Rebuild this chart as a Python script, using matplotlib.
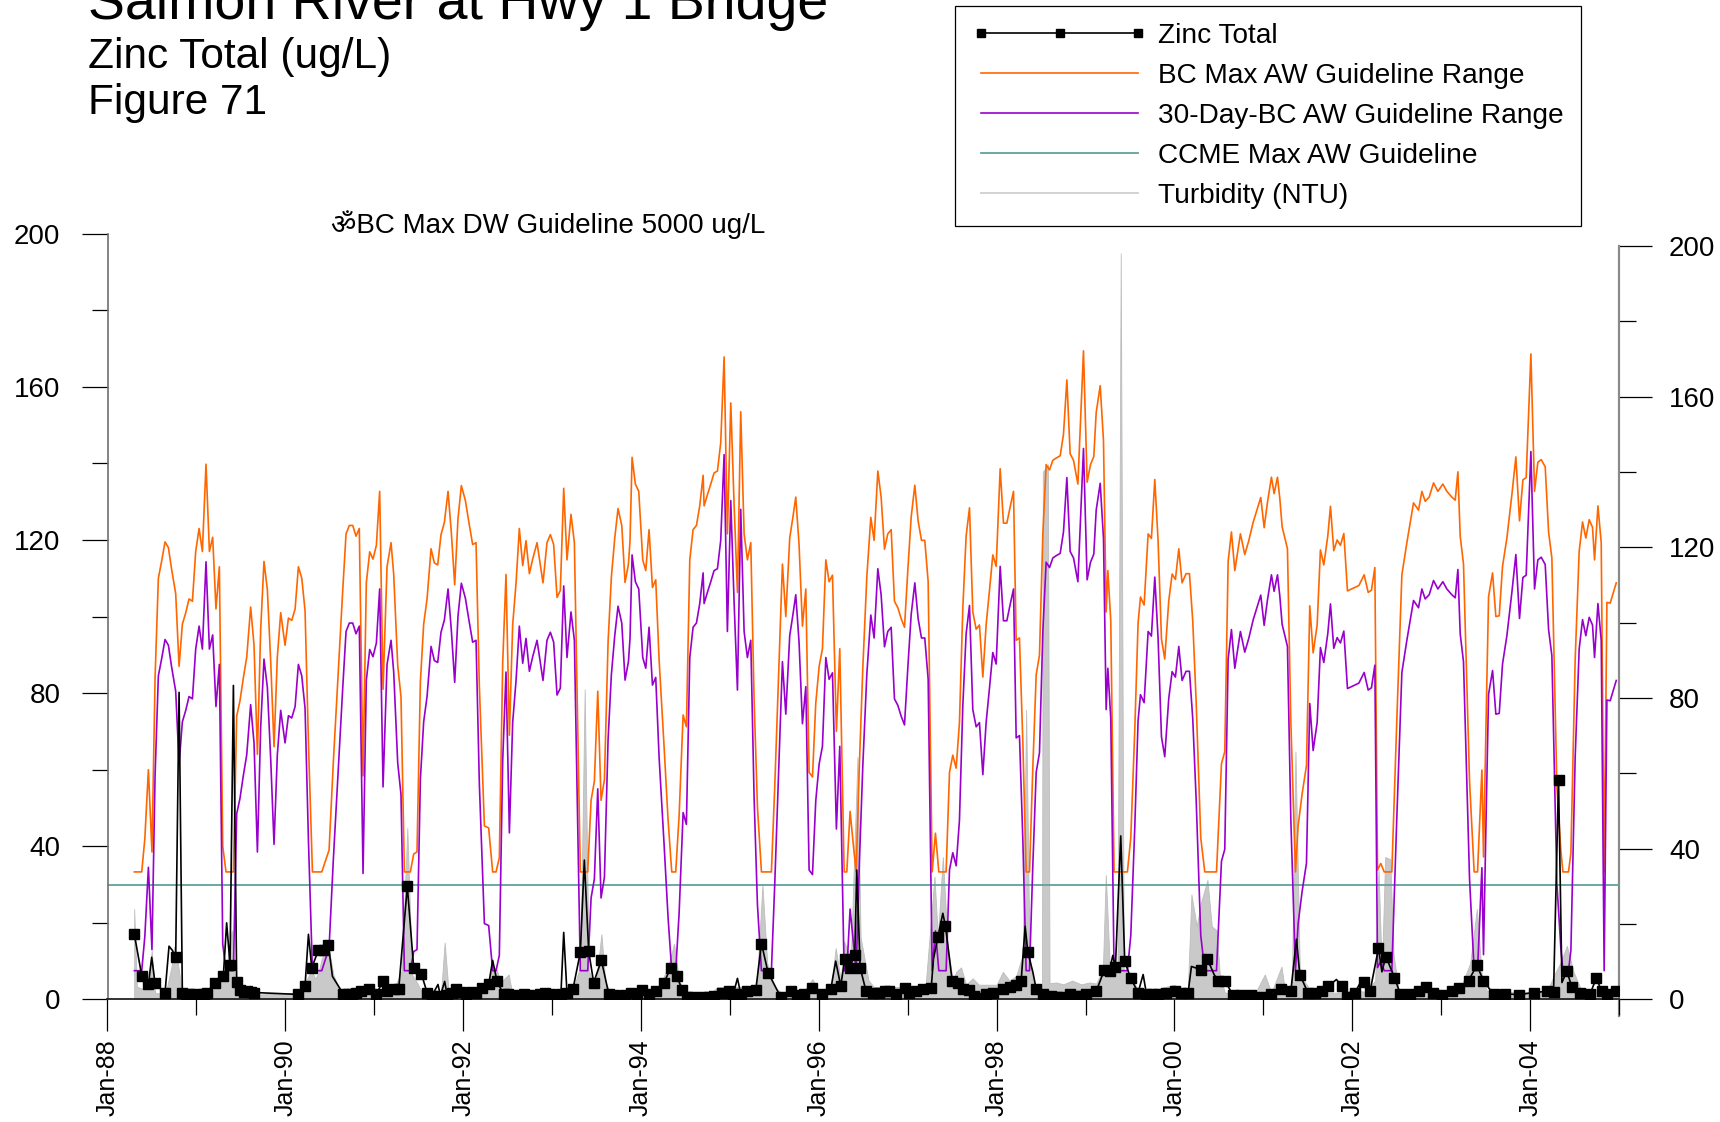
import matplotlib
matplotlib.use("Agg")
import matplotlib.pyplot as plt
from matplotlib.lines import Line2D
from matplotlib.ticker import FixedLocator

plt.rcParams['font.family'] = ['Liberation Sans', 'DejaVu Sans', 'Noto Sans']

# ---------------- data (decimal years) ----------------
guide_dates = [1988.302,1988.385,1988.42,1988.46,1988.50,1988.535,1988.572,1988.61,1988.647,1988.685,1988.72,1988.767,1988.805,1988.842,1988.88,1988.917,1988.955,1988.992,1989.03,1989.067,1989.108,1989.146,1989.183,1989.22,1989.258,1989.296,1989.333,1989.416,1989.453,1989.49,1989.528,1989.566,1989.61,1989.648,1989.686,1989.723,1989.76,1989.798,1989.836,1989.873,1989.91,1989.948,1989.997,1990.035,1990.072,1990.11,1990.147,1990.185,1990.222,1990.26,1990.305,1990.41,1990.492,1990.54,1990.597,1990.646,1990.683,1990.72,1990.758,1990.795,1990.832,1990.874,1990.911,1990.949,1990.986,1991.024,1991.061,1991.099,1991.144,1991.189,1991.219,1991.264,1991.301,1991.339,1991.406,1991.444,1991.481,1991.519,1991.556,1991.594,1991.639,1991.676,1991.714,1991.751,1991.789,1991.83,1991.867,1991.905,1991.942,1991.98,1992.025,1992.062,1992.107,1992.145,1992.182,1992.239,1992.287,1992.332,1992.37,1992.407,1992.445,1992.482,1992.52,1992.557,1992.595,1992.632,1992.67,1992.707,1992.745,1992.782,1992.831,1992.868,1992.898,1992.943,1992.981,1993.018,1993.056,1993.093,1993.131,1993.168,1993.213,1993.251,1993.318,1993.401,1993.439,1993.476,1993.514,1993.551,1993.589,1993.63,1993.667,1993.705,1993.742,1993.784,1993.821,1993.859,1993.877,1993.9,1993.937,1993.975,1994.02,1994.054,1994.091,1994.129,1994.166,1994.204,1994.26,1994.305,1994.346,1994.391,1994.429,1994.474,1994.511,1994.549,1994.586,1994.624,1994.661,1994.699,1994.71,1994.747,1994.785,1994.822,1994.86,1994.897,1994.935,1994.972,1995.01,1995.047,1995.085,1995.122,1995.16,1995.197,1995.235,1995.272,1995.31,1995.355,1995.467,1995.505,1995.554,1995.591,1995.629,1995.673,1995.711,1995.741,1995.778,1995.816,1995.854,1995.891,1995.929,1995.966,1996.004,1996.041,1996.079,1996.116,1996.154,1996.198,1996.236,1996.285,1996.315,1996.352,1996.39,1996.42,1996.457,1996.495,1996.54,1996.585,1996.622,1996.664,1996.701,1996.739,1996.776,1996.814,1996.851,1996.889,1996.926,1996.964,1997.001,1997.039,1997.08,1997.117,1997.155,1997.192,1997.23,1997.275,1997.312,1997.35,1997.432,1997.47,1997.507,1997.545,1997.582,1997.62,1997.657,1997.695,1997.732,1997.77,1997.807,1997.845,1997.882,1997.92,1997.957,1997.995,1998.04,1998.077,1998.115,1998.152,1998.19,1998.22,1998.257,1998.295,1998.332,1998.37,1998.407,1998.445,1998.482,1998.52,1998.557,1998.595,1998.632,1998.67,1998.715,1998.752,1998.79,1998.827,1998.865,1998.914,1998.977,1999.018,1999.056,1999.093,1999.12,1999.165,1999.202,1999.232,1999.251,1999.284,1999.321,1999.471,1999.509,1999.554,1999.591,1999.618,1999.659,1999.704,1999.741,1999.779,1999.816,1999.854,1999.891,1999.936,1999.974,2000.011,2000.049,2000.086,2000.131,2000.169,2000.206,2000.244,2000.296,2000.341,2000.473,2000.529,2000.566,2000.604,2000.641,2000.679,2000.742,2000.791,2000.836,2000.885,2000.971,2001.009,2001.046,2001.091,2001.121,2001.159,2001.185,2001.211,2001.271,2001.309,2001.361,2001.391,2001.436,2001.485,2001.522,2001.56,2001.605,2001.642,2001.68,2001.725,2001.755,2001.792,2001.83,2001.867,2001.905,2001.946,2002.074,2002.134,2002.179,2002.216,2002.254,2002.284,2002.321,2002.359,2002.445,2002.501,2002.558,2002.614,2002.689,2002.745,2002.783,2002.82,2002.865,2002.914,2002.963,2003.019,2003.064,2003.12,2003.158,2003.188,2003.214,2003.251,2003.319,2003.371,2003.409,2003.458,2003.476,2003.506,2003.533,2003.578,2003.615,2003.653,2003.69,2003.739,2003.795,2003.84,2003.881,2003.919,2003.956,2004.009,2004.05,2004.087,2004.125,2004.17,2004.208,2004.245,2004.301,2004.346,2004.369,2004.432,2004.459,2004.507,2004.552,2004.59,2004.627,2004.665,2004.702,2004.725,2004.763,2004.8,2004.833,2004.864,2004.901,2004.969]

bc_max_aw = [33.3,33.3,42,60,38.5,84,110,114.6,119.5,118,112.5,106,87,98,101,104.6,104,117,123,117,139.8,117,120.7,102,113,40,33.3,33.3,74,78,84,89.4,102.5,92.5,64,96.7,114.4,107,88,66,89.4,101,92.5,99.6,99,102,113,110,101.5,67,33.3,33.3,39,62,86,107,121.6,123.8,123.8,121,123,58.4,108.8,116.9,115,118.6,132.7,81,113,119.3,111,87.3,79,33.3,33.3,38,38.5,83,98,104.6,117.7,114,113.5,121.4,124.6,132.7,122,108.3,125.6,134.2,130.3,125,118.8,119.3,82,45.3,44.8,33.3,33.3,37,88,111,69,97.8,108.8,123,113.3,119.8,111.2,115,119.3,113.5,108.8,119.3,121.4,118.8,105,106.8,133.5,114.8,126.7,119.3,33.3,33.3,52,57,80.5,52,57.4,93.3,110.3,120.5,128.2,123.8,108.9,113.7,119.9,141.6,134.6,132.7,114.8,112,122.7,107.6,109.6,88.7,66,46.8,33.3,33.3,48,74.3,71.2,114.8,122.7,123.8,128.9,136.9,128.9,131.8,134.6,137.5,138,145.4,167.8,121.6,155.8,129.5,106.3,153.5,121.6,114.8,119.3,78.5,50.2,33.3,33.3,55.9,88.7,113.7,100,120.5,126.3,131.2,118.8,97.5,107.2,59.3,58.1,77.4,87,91.6,114.8,109.1,110.8,70,91.6,33.3,33.3,49.1,40,33.3,61.6,86.5,110.3,125.9,119.9,138,131.2,117.6,121.6,122.7,104,102.3,99.5,97.2,112,126,134.3,125,119.9,119.9,109.1,33.3,43.4,33.3,33.3,59.3,63.8,60.4,72.3,102.3,121,128.4,101.2,96.7,97.8,84.2,97.8,106.9,116.1,113.1,138.6,124.4,124.4,128.6,132.7,93.8,94.4,67.2,33.3,33.3,60.4,84.8,89.9,121.6,139.7,138.3,140.8,141.4,142,147.6,161.8,142.5,140.8,134.6,169.4,135.1,139.7,141.8,153.3,160.3,145.9,101.2,112,98.8,33.3,33.3,42.2,70.5,98.3,105.1,103,121.6,120.4,135.8,119.8,94.1,88.9,104.1,111.1,109.7,117.7,108.8,111.2,111.2,98.8,77.9,42.2,33.3,33.3,61.6,64.7,114.4,122.1,112,121.6,116.2,119.8,124.6,131.1,123.2,129.8,136.4,132.1,136.4,130.9,123.5,117.7,72.6,33.3,45.3,53.7,61.1,102.8,90.5,97.8,117.4,113.5,121.1,128.8,117.2,120,118.6,121.7,106.7,108.1,110.9,106.3,106.9,112.8,33.8,35.5,33.3,33.3,72.9,110.9,119.3,129.7,127.8,132.7,130.1,131.2,134.9,132.7,134.6,132.7,131.2,130.4,137.8,121,113.7,57,33.3,33.3,59.9,37.2,74,105.2,111.4,100,100.2,113.1,120.5,131.8,141.7,125,135.7,136.3,168.6,132.7,140.3,141,139.1,122.1,115.3,55.9,38.9,33.3,33.3,38.3,88.7,117,124.7,120.5,125.3,123.3,114.8,128.9,119.3,33.3,103.7,103.5,108.8]

day30_aw = [7.5,7.5,16.5,34.5,13,58.5,84.5,89.1,94,92.5,87,80.5,61.5,72.5,75.5,79.1,78.5,91.5,97.5,91.5,114.3,91.5,95.2,76.5,87.5,14.5,7.5,7.5,48.5,52.5,58.5,63.9,77,67,38.5,71.2,88.9,81.5,62.5,40.5,63.9,75.5,67,74.1,73.5,76.5,87.5,84.5,76,41.5,7.5,7.5,13.5,36.5,60.5,81.5,96.1,98.3,98.3,95.5,97.5,32.9,83.3,91.4,89.5,93.1,107.2,55.5,87.5,93.8,85.5,61.8,53.5,7.5,7.5,12.5,13,57.5,72.5,79.1,92.2,88.5,88,95.9,99.1,107.2,96.5,82.8,100.1,108.7,104.8,99.5,93.3,93.8,56.5,19.8,19.3,7.5,7.5,11.5,62.5,85.5,43.5,72.3,83.3,97.5,87.8,94.3,85.7,89.5,93.8,88,83.3,93.8,95.9,93.3,79.5,81.3,108,89.3,101.2,93.8,7.5,7.5,26.5,31.5,55,26.5,31.9,67.8,84.8,95,102.7,98.3,83.4,88.2,94.4,116.1,109.1,107.2,89.3,86.5,97.2,82.1,84.1,63.2,40.5,21.3,7.5,7.5,22.5,48.8,45.7,89.3,97.2,98.3,103.4,111.4,103.4,106.3,109.1,112,112.5,119.9,142.3,96.1,130.3,104,80.8,128,96.1,89.3,93.8,53,24.7,7.5,7.5,30.4,63.2,88.2,74.5,95,100.8,105.7,93.3,72,81.7,33.8,32.6,51.9,61.5,66.1,89.3,83.6,85.3,44.5,66.1,7.5,7.5,23.6,14.5,7.5,36.1,61,84.8,100.4,94.4,112.5,105.7,92.1,96.1,97.2,78.5,76.8,74,71.7,86.5,100.5,108.8,99.5,94.4,94.4,83.6,7.5,17.9,7.5,7.5,33.8,38.3,34.9,46.8,76.8,95.5,102.9,75.7,71.2,72.3,58.7,72.3,81.4,90.6,87.6,113.1,98.9,98.9,103.1,107.2,68.3,68.9,41.7,7.5,7.5,34.9,59.3,64.4,96.1,114.2,112.8,115.3,115.9,116.5,122.1,136.3,117,115.3,109.1,143.9,109.6,114.2,116.3,127.8,134.8,120.4,75.7,86.5,73.3,7.5,7.5,16.7,45,72.8,79.6,77.5,96.1,94.9,110.3,94.3,68.6,63.4,78.6,85.6,84.2,92.2,83.3,85.7,85.7,73.3,52.4,16.7,7.5,7.5,36.1,39.2,88.9,96.6,86.5,96.1,90.7,94.3,99.1,105.6,97.7,104.3,110.9,106.6,110.9,105.4,98,92.2,47.1,7.5,19.8,28.2,35.6,77.3,65,72.3,91.9,88,95.6,103.3,91.7,94.5,93.1,96.2,81.2,82.6,85.4,80.8,81.4,87.3,8.3,10,7.5,7.5,47.4,85.4,93.8,104.2,102.3,107.2,104.6,105.7,109.4,107.2,109.1,107.2,105.7,104.9,112.3,95.5,88.2,31.5,7.5,7.5,34.4,11.7,48.5,79.7,85.9,74.5,74.7,87.6,95,106.3,116.2,99.5,110.2,110.8,143.1,107.2,114.8,115.5,113.6,96.6,89.8,30.4,13.4,7.5,7.5,12.8,63.2,91.5,99.2,95,99.8,97.8,89.3,103.4,93.8,7.5,78.2,78,83.3]

ccme_max_aw = 30

zinc_dates = [1988.302,1988.385,1988.46,1988.497,1988.535,1988.647,1988.692,1988.73,1988.767,1988.805,
              1988.842,1988.88,1988.92,1988.96,1989.0,1989.04,1989.08,1989.12,1989.21,1989.303,
              1989.34,1989.378,1989.416,1989.453,1989.49,1989.53,1989.57,1989.61,1989.65,1990.147,
              1990.222,1990.26,1990.297,1990.372,1990.43,1990.485,1990.53,1990.65,1990.70,1990.75,
              1990.80,1990.85,1990.94,1991.02,1991.099,1991.144,1991.219,1991.275,1991.372,1991.444,
              1991.53,1991.594,1991.65,1991.717,1991.744,1991.792,1991.82,1991.875,1991.92,1991.97,
              1992.03,1992.09,1992.15,1992.212,1992.287,1992.332,1992.381,1992.456,1992.51,1992.56,
              1992.62,1992.68,1992.74,1992.80,1992.86,1992.92,1992.98,1993.04,1993.10,1993.131,
              1993.168,1993.236,1993.318,1993.363,1993.412,1993.468,1993.555,1993.637,1993.70,1993.76,
              1993.82,1993.885,1993.95,1994.016,1994.091,1994.166,1994.26,1994.335,1994.402,1994.466,
              1994.52,1994.58,1994.64,1994.70,1994.76,1994.82,1994.916,1994.991,1995.04,1995.085,
              1995.122,1995.197,1995.291,1995.355,1995.43,1995.572,1995.685,1995.76,1995.835,1995.929,
              1996.041,1996.135,1996.19,1996.247,1996.292,1996.348,1996.405,1996.427,1996.465,1996.532,
              1996.607,1996.682,1996.74,1996.795,1996.87,1996.964,1997.02,1997.095,1997.17,1997.264,
              1997.29,1997.339,1997.395,1997.425,1997.5,1997.564,1997.62,1997.695,1997.75,1997.807,
              1997.882,1997.957,1998.07,1998.145,1998.22,1998.276,1998.321,1998.351,1998.407,1998.445,
              1998.52,1998.613,1998.68,1998.726,1998.82,1998.895,1998.95,1999.007,1999.12,1999.213,
              1999.27,1999.307,1999.336,1999.396,1999.441,1999.509,1999.591,1999.648,1999.685,1999.75,
              1999.82,1999.90,2000.004,2000.079,2000.154,2000.191,2000.296,2000.371,2000.446,2000.491,
              2000.566,2000.66,2000.754,2000.866,2000.979,2001.091,2001.204,2001.309,2001.372,2001.41,
              2001.504,2001.579,2001.654,2001.729,2001.822,2001.879,2001.946,2002.029,2002.104,2002.134,
              2002.2,2002.295,2002.333,2002.378,2002.475,2002.539,2002.651,2002.745,2002.831,2002.906,
              2003.008,2003.12,2003.206,2003.308,2003.401,2003.476,2003.589,2003.72,2003.87,2004.039,
              2004.189,2004.264,2004.32,2004.358,2004.414,2004.47,2004.564,2004.676,2004.744,2004.807,
              2004.864,2004.969]

zinc_total = [17,6.2,3.9,11,4.2,1.8,13.9,12.8,11,80.2,
              1.6,1.5,1.5,1.2,1.3,1.0,1.5,1.8,4.4,6.2,
              20,9.1,82,4.6,2.5,2.0,2.2,2.0,1.8,1.3,
              3.6,17,8.3,12.8,13,14.1,6,1.5,1.3,1.5,
              1.6,2.3,2.8,1.3,4.7,2.3,2.6,2.6,29.6,8.1,
              6.7,1.8,1.0,3.9,1.0,4.7,1.2,1.8,2.6,2.0,
              1.5,2.0,1.6,3.0,3.9,10.2,4.7,1.3,1.5,1.2,
              1.0,1.5,1.2,1.0,1.5,1.8,1.5,1.2,1.5,17.5,
              1.6,2.8,12.3,36.4,12.6,4.4,10.2,1.5,1.2,0.9,
              1.2,1.8,1.3,2.4,1.5,2.1,4.4,8.3,6.1,2.4,
              0.7,0.5,0.4,0.6,0.5,0.9,1.8,2.1,1.5,5.5,
              1.5,2.1,2.4,14.6,7.0,0.6,2.1,1.2,1.5,2.9,
              1.5,2.7,10,3.5,10.6,8.3,11.7,33.8,8.3,2.1,
              1.8,1.8,2.1,2.1,1.5,2.9,1.8,2.1,2.7,2.9,
              10.6,16.3,22.5,19.1,4.9,4.4,2.7,2.4,1.0,0.4,
              1.5,1.8,2.7,3.2,3.8,4.9,19.1,12.3,7.2,2.7,
              1.5,0.9,0.7,0.6,1.3,0.9,1.0,1.3,2.1,7.8,
              7.5,11.5,8.4,42.7,9.9,5.5,1.8,6.5,1.5,1.5,
              1.3,1.6,2.1,1.8,1.8,8.6,7.8,10.5,6.5,4.9,
              4.9,1.1,1.1,1.1,0.7,1.3,2.8,2.1,15.7,6.5,
              1.6,1.8,2.3,3.4,5.2,3.6,0.7,1.8,4.9,4.6,
              2.1,13.4,7.2,11.2,5.7,1.5,1.3,2.1,3.3,1.8,
              1.2,2.1,2.9,4.9,8.9,4.9,1.3,1.5,1.2,1.8,
              2.1,2.0,57.3,4.4,7.4,3.2,1.8,1.5,5.5,2.1,
              1.5,2.1]

# 1 = sample drawn with a square marker
zinc_marked = [1,1,1,0,1,1,0,0,1,0,
               1,1,1,1,1,1,1,1,1,1,
               0,1,0,1,1,1,1,1,1,1,
               1,0,1,1,1,1,0,1,1,1,
               1,1,1,1,1,1,1,1,1,1,
               1,1,1,0,1,0,1,1,1,1,
               1,1,1,1,1,0,1,1,1,1,
               1,1,1,1,1,1,1,1,1,0,
               1,1,1,0,1,1,1,1,1,1,
               1,1,1,1,1,1,1,1,1,1,
               1,1,1,1,1,1,1,1,1,0,
               1,1,1,1,1,1,1,1,1,1,
               1,1,0,1,1,1,1,0,1,1,
               1,1,1,1,1,1,1,1,1,1,
               0,1,0,1,1,1,1,1,1,1,
               1,1,1,1,1,1,0,1,0,1,
               1,1,1,1,1,1,1,1,1,1,
               1,0,1,0,1,1,1,0,1,1,
               1,1,1,1,1,0,1,1,0,1,
               1,1,1,1,1,1,1,1,0,1,
               1,1,1,1,0,1,1,1,0,1,
               1,1,0,1,1,1,1,1,1,1,
               1,1,1,1,1,1,1,1,1,1,
               1,1,1,0,1,1,1,1,1,1,
               1,1]

turb_dates = [1988.30,1988.33,1988.385,1988.46,1988.497,1988.535,1988.60,1988.66,1988.72,1988.75,1988.79,1988.84,1988.95,1989.10,1989.21,1989.28,1989.34,1989.397,1989.44,1989.55,1989.70,1990.17,1990.222,1990.297,1990.335,1990.372,1990.41,1990.447,1990.485,1990.54,1990.615,1990.70,1990.85,1991.0,1991.2,1991.31,1991.372,1991.425,1991.481,1991.538,1991.65,1991.75,1991.792,1991.837,1992.0,1992.2,1992.27,1992.344,1992.38,1992.42,1992.512,1992.55,1992.8,1993.0,1993.22,1993.26,1993.318,1993.367,1993.412,1993.487,1993.555,1993.60,1993.66,1993.9,1994.18,1994.24,1994.316,1994.372,1994.43,1994.49,1994.8,1994.86,1995.3,1995.366,1995.42,1995.497,1995.57,1995.83,1995.929,1995.985,1996.06,1996.135,1996.19,1996.247,1996.285,1996.36,1996.435,1996.47,1996.532,1996.56,1996.62,1996.9,1997.2,1997.226,1997.301,1997.339,1997.395,1997.45,1997.507,1997.545,1997.6,1997.657,1997.73,1997.80,1998.0,1998.07,1998.145,1998.22,1998.295,1998.332,1998.37,1998.407,1998.465,1998.51,1998.52,1998.577,1998.595,1998.67,1998.75,1998.85,1998.95,1999.05,1999.12,1999.195,1999.228,1999.27,1999.31,1999.36,1999.396,1999.43,1999.48,1999.52,1999.58,1999.65,2000.0,2000.08,2000.15,2000.191,2000.25,2000.30,2000.371,2000.42,2000.474,2000.51,2000.566,2000.9,2001.016,2001.09,2001.204,2001.24,2001.32,2001.361,2001.41,2001.47,2001.55,2001.9,2002.0,2002.15,2002.258,2002.295,2002.333,2002.37,2002.427,2002.464,2002.52,2003.2,2003.25,2003.326,2003.401,2003.458,2003.514,2003.6,2004.19,2004.264,2004.339,2004.414,2004.489,2004.564,2004.65,2004.969]

turbidity = [24,3.4,2.9,2.3,13,1.8,1.5,2.3,8.7,14,9.8,1.8,1.3,1.3,2.9,6.6,8.7,18.3,3.9,1.3,1.3,1.8,4.5,7.7,5.5,7,10.9,12.5,14.1,6.6,2.3,1.3,1.3,1.5,1.5,7.7,45.5,6.6,4.5,1.8,1.3,1.3,15.1,1.8,1.8,1.8,4.5,8.7,7.7,4.5,6.6,1.8,1.5,1.5,1.5,4.5,8.7,82.3,7.7,2.9,17.3,4.5,1.8,2,2,5,9.6,14.8,5,2,2,3.3,3.3,30.3,9.6,3.3,2,2,5.4,2.6,2.6,2.6,13.6,5,15.4,10.8,64.3,16.5,8.5,5,3.3,3.3,3.3,10.8,32.6,16.5,37.8,14.2,5,7.3,8.5,3.9,5.6,3.9,3.9,7.3,5,6.2,11.9,76.9,11.9,5,2,3,140,142,4.3,4.5,4,5,4,4.5,4.2,8,33,10.2,8.5,10,198,8,6.6,5.5,3,1.8,3.9,2,2,27.9,19.4,25.8,31.7,19.4,18.3,6.6,1.8,1.3,6.6,1.8,8.7,2.9,2.9,65.8,7.7,4.5,1.8,1.8,2.5,2,5,34.4,7.3,37.8,37.2,11.9,2.7,1.8,5,9.6,24,6,2.3,2,2,6.2,9.6,14.2,7.3,3.1,2.7,2.7]

y_ticks = [0, 40, 80, 120, 160, 200]
y_minor = [20, 60, 100, 140, 180]
x_tick_years = [1988, 1990, 1992, 1994, 1996, 1998, 2000, 2002, 2004]
x_minor_years = [1989, 1991, 1993, 1995, 1997, 1999, 2001, 2003, 2005]
x_tick_labels = ['Jan-88', 'Jan-90', 'Jan-92', 'Jan-94', 'Jan-96', 'Jan-98', 'Jan-00', 'Jan-02', 'Jan-04']

# safety against length slips
ng = min(len(guide_dates), len(bc_max_aw), len(day30_aw))
nz = min(len(zinc_dates), len(zinc_total), len(zinc_marked))
nt = min(len(turb_dates), len(turbidity))

# ---------------- figure ----------------
W, H = 1720, 1122
fig = plt.figure(figsize=(W / 100, H / 100), dpi=100)
left_px, right_px, bot_px, top_px = 107.5, 1619, 999.4, 233.7
ax = fig.add_axes([left_px / W, 1 - bot_px / H, (right_px - left_px) / W, (bot_px - top_px) / H])
ax2 = ax.twinx()

ax.set_xlim(1988, 2005)
ax.set_ylim(0, 200)
ax2.set_ylim(0, 200 * (bot_px - top_px) / (bot_px - 245.8))

# turbidity (right axis) behind everything
ax2.fill_between(turb_dates[:nt], 0, turbidity[:nt], color='#c9c9c9', lw=0.6,
                 edgecolor='#bdbdbd', zorder=1)

ax.set_zorder(ax2.get_zorder() + 1)
ax.patch.set_visible(False)

c_orange = '#ff6600'
c_purple = '#9900cc'
c_teal = '#5fa39c'
ax.plot(guide_dates[:ng], bc_max_aw[:ng], color=c_orange, lw=1.2, zorder=3)
ax.plot(guide_dates[:ng], day30_aw[:ng], color=c_purple, lw=1.2, zorder=3)
ax.axhline(ccme_max_aw, color=c_teal, lw=1.3, zorder=2)
ax.plot(zinc_dates[:nz], zinc_total[:nz], color='black', lw=1.2, zorder=5)
mx = [d for d, m in zip(zinc_dates[:nz], zinc_marked[:nz]) if m]
my = [v for v, m in zip(zinc_total[:nz], zinc_marked[:nz]) if m]
ax.plot(mx, my, linestyle='none', marker='s', ms=6.5, color='black', zorder=6)

# spines
for a in (ax, ax2):
    a.spines['top'].set_visible(False)
ax.spines['right'].set_visible(False)
ax2.spines['left'].set_visible(False)
ax2.spines['bottom'].set_visible(False)
ax.spines['left'].set_color('#707070')
ax.spines['left'].set_linewidth(1.2)
ax.spines['left'].set_bounds(0, 200)
ax2.spines['right'].set_color('#8a8a8a')
ax2.spines['right'].set_linewidth(1.6)
ax2.spines['right'].set_bounds(-4.5, 200)
ax.spines['bottom'].set_color('#222222')
ax.spines['bottom'].set_linewidth(1.3)

# ticks
ax.set_yticks(y_ticks)
ax.yaxis.set_minor_locator(FixedLocator(y_minor))
ax.tick_params(axis='y', which='major', length=19, width=0.9, pad=15, labelsize=20, color='black')
ax.tick_params(axis='y', which='minor', length=11.5, width=0.9, color='black')

ax2.set_yticks(y_ticks)
ax2.yaxis.set_minor_locator(FixedLocator(y_minor))
ax2.tick_params(axis='y', which='major', length=24, width=0.9, pad=12, labelsize=20, color='black')
ax2.tick_params(axis='y', which='minor', length=12, width=0.9, color='black')

ax.set_xticks(x_tick_years)
ax.set_xticklabels(x_tick_labels, rotation=90)
ax.xaxis.set_minor_locator(FixedLocator(x_minor_years))
ax.tick_params(axis='x', which='major', length=23, width=0.9, pad=6, labelsize=18, color='black')
ax.tick_params(axis='x', which='minor', length=11.5, width=0.9, color='black')

# titles / text
fig.text(88 / W, 1 - 19 / H, 'Salmon River at Hwy 1 Bridge', fontsize=40, va='baseline', ha='left')
fig.text(88 / W, 1 - 68 / H, 'Zinc Total (ug/L)', fontsize=30.5, va='baseline', ha='left')
fig.text(88 / W, 1 - 114 / H, 'Figure 71', fontsize=30.5, va='baseline', ha='left')
fig.text(331 / W, 1 - 225 / H, '\u0950BC Max DW Guideline 5000 ug/L', fontsize=20, va='center', ha='left')

# legend
handles = [
    Line2D([], [], color='black', lw=1.2, marker='s', ms=6),
    Line2D([], [], color=c_orange, lw=1.2),
    Line2D([], [], color=c_purple, lw=1.2),
    Line2D([], [], color=c_teal, lw=1.3),
    Line2D([], [], color='#cfcfcf', lw=1.3),
]
labels = ['Zinc Total', 'BC Max AW Guideline Range', '30-Day-BC AW Guideline Range',
          'CCME Max AW Guideline', 'Turbidity (NTU)']
leg = fig.legend(handles, labels, loc='upper left', bbox_to_anchor=(955.5 / W, 1 - 5.5 / H),
                 frameon=True, fancybox=False, edgecolor='black', fontsize=20.2,
                 handlelength=6.2, handletextpad=0.4, labelspacing=0.5, borderpad=0.62,
                 borderaxespad=0, numpoints=3, framealpha=1)
leg.get_frame().set_linewidth(0.9)

fig.savefig('out.png', dpi=100)
